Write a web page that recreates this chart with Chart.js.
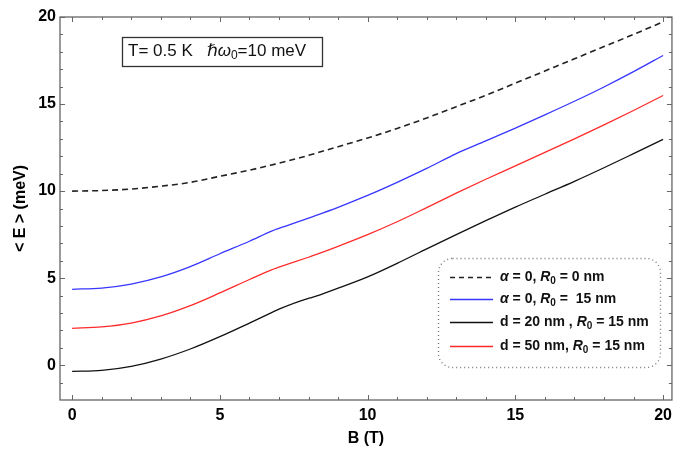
<!DOCTYPE html>
<html>
<head>
<meta charset="utf-8">
<script src="https://cdn.jsdelivr.net/npm/chart.js@4.4.0/dist/chart.umd.min.js"></script>
<style>
  body { margin: 0; background: #fff; }
  #wrap { width: 678px; height: 450px; }
</style>
</head>
<body>
<div id="wrap"><canvas id="chart" width="678" height="450"></canvas></div>
<script>
// magnetic field (T)
const B = [0, 1, 2, 3, 4, 5, 6, 6.75, 7, 8, 8.1, 9, 10, 11, 12, 13, 14, 15, 16, 17, 18, 19, 20]

// <E> (meV) for each curve
const eAlpha0R0 = [10.0, 10.03, 10.12, 10.28, 10.5, 10.85, 11.2, 11.5, 11.6, 12.05, 12.1, 12.55, 13.05, 13.6, 14.2, 14.85, 15.5, 16.2, 16.9, 17.6, 18.3, 19.0, 19.72]
const eAlpha0R15 = [4.36, 4.43, 4.66, 5.07, 5.66, 6.4, 7.12, 7.7, 7.86, 8.45, 8.51, 9.07, 9.75, 10.5, 11.3, 12.15, 12.88, 13.62, 14.38, 15.16, 15.98, 16.86, 17.79]
const eD20R15 = [-0.36, -0.3, -0.07, 0.35, 0.93, 1.64, 2.42, 3.02, 3.22, 3.84, 3.88, 4.42, 5.07, 5.85, 6.68, 7.5, 8.3, 9.08, 9.82, 10.56, 11.34, 12.15, 12.97]
const eD50R15 = [2.12, 2.2, 2.42, 2.83, 3.42, 4.15, 4.92, 5.48, 5.63, 6.2, 6.26, 6.83, 7.5, 8.24, 9.05, 9.88, 10.68, 11.45, 12.22, 13.0, 13.8, 14.63, 15.49]

const xTicks = [0, 5, 10, 15, 20]
const yTicks = [0, 5, 10, 15, 20]

const pts = (ys) => B.map((b, i) => ({x: b, y: ys[i]}))

const BLUE = '#3636ff'
const RED = '#ff2b2b'
const BLACK = '#111'

// draws text made of pieces: {t, it (italic), sub (subscript)}
function richText(ctx, parts, x, y, size, weight) {
    ctx.textBaseline = 'middle'
    ctx.textAlign = 'left'
    parts.forEach(p => {
        const s = p.sub ? Math.round(size * 0.7) : size
        ctx.font = `${p.it ? 'italic ' : ''}${weight} ${s}px "Liberation Sans", "DejaVu Sans", Arial, sans-serif`
        ctx.fillText(p.t, x, p.sub ? y + size * 0.3 : y)
        x += ctx.measureText(p.t).width
    })
}

const frame = {
    id: 'frame',
    afterDraw(chart) {
        const {ctx, chartArea: a, scales: {x, y}} = chart
        ctx.save()
        ctx.strokeStyle = '#666'
        ctx.lineWidth = 1.3
        ctx.strokeRect(a.left, a.top, a.right - a.left, a.bottom - a.top)
        ctx.lineWidth = 1
        ctx.beginPath()
        for (let v = 0; v <= 20; v++) {
            const px = Math.round(x.getPixelForValue(v)) + 0.5
            const len = v % 5 === 0 ? 5 : 3
            ctx.moveTo(px, a.bottom); ctx.lineTo(px, a.bottom - len)
            ctx.moveTo(px, a.top); ctx.lineTo(px, a.top + len)
        }
        for (let v = -1; v <= 20; v++) {
            const py = Math.round(y.getPixelForValue(v)) + 0.5
            const len = v % 5 === 0 ? 5 : 3
            ctx.moveTo(a.left, py); ctx.lineTo(a.left + len, py)
            ctx.moveTo(a.right, py); ctx.lineTo(a.right - len, py)
        }
        ctx.stroke()

        // parameter box
        ctx.fillStyle = '#111'
        ctx.strokeStyle = '#333'
        ctx.lineWidth = 1.3
        ctx.strokeRect(122.5, 37.5, 200, 29)
        richText(ctx, [
            {t: 'T= 0.5 K   '},
            {t: '\u210F\u03C9', it: true},
            {t: '0', sub: true},
            {t: '=10 meV'}
        ], 128, 51, 17, 'normal')

        // legend
        ctx.strokeStyle = '#777'
        ctx.lineWidth = 1.4
        ctx.setLineDash([1, 3])
        ctx.beginPath()
        ctx.roundRect(438.5, 258.5, 222, 109, 14)
        ctx.stroke()
        const rows = [
            {color: '#222', dash: [5, 4], parts: [{t: '\u03B1', it: true}, {t: ' = 0, '}, {t: 'R', it: true}, {t: '0', sub: true}, {t: ' = 0 nm'}]},
            {color: BLUE, dash: [], parts: [{t: '\u03B1', it: true}, {t: ' = 0, '}, {t: 'R', it: true}, {t: '0', sub: true}, {t: ' =  15 nm'}]},
            {color: BLACK, dash: [], parts: [{t: 'd = 20 nm , '}, {t: 'R', it: true}, {t: '0', sub: true}, {t: ' = 15 nm'}]},
            {color: RED, dash: [], parts: [{t: 'd = 50 nm, '}, {t: 'R', it: true}, {t: '0', sub: true}, {t: ' = 15 nm'}]}
        ]
        const rowY = [277, 299, 322, 346]
        rows.forEach((r, i) => {
            ctx.strokeStyle = r.color
            ctx.lineWidth = 1.3
            ctx.setLineDash(r.dash)
            ctx.beginPath()
            ctx.moveTo(450, rowY[i] + 0.5); ctx.lineTo(493, rowY[i] + 0.5)
            ctx.stroke()
            ctx.fillStyle = '#111'
            richText(ctx, r.parts, 500, rowY[i], 14, 'bold')
        })
        ctx.restore()
    }
}

const tickFont = {family: '"Liberation Sans", Arial, sans-serif', size: 16, weight: 'bold'}

new Chart(document.getElementById('chart'), {
    type: 'line',
    data: {
        datasets: [
            {label: 'a0R0', data: pts(eAlpha0R0), borderColor: '#222', borderWidth: 1.6, borderDash: [6, 4]},
            {label: 'a0R15', data: pts(eAlpha0R15), borderColor: BLUE, borderWidth: 1.3},
            {label: 'd20', data: pts(eD20R15), borderColor: BLACK, borderWidth: 1.3},
            {label: 'd50', data: pts(eD50R15), borderColor: RED, borderWidth: 1.3}
        ]
    },
    options: {
        responsive: false,
        animation: false,
        events: [],
        layout: {padding: {top: 17, right: 1, left: 0, bottom: 0}},
        elements: {
            point: {radius: 0},
            line: {cubicInterpolationMode: 'monotone', fill: false}
        },
        scales: {
            x: {
                type: 'linear',
                min: -0.41,
                max: 20.3,
                afterBuildTicks: (s) => { s.ticks = xTicks.map(v => ({value: v})) },
                afterFit: (s) => { s.height = 50 },
                grid: {display: false, drawTicks: false},
                border: {display: false},
                ticks: {font: tickFont, color: '#000', padding: 6, maxRotation: 0},
                title: {display: true, text: 'B (T)', font: tickFont, color: '#000', padding: {top: 0, bottom: 2}}
            },
            y: {
                min: -2,
                max: 20,
                afterBuildTicks: (s) => { s.ticks = yTicks.map(v => ({value: v})) },
                afterFit: (s) => { s.width = 60 },
                grid: {display: false, drawTicks: false},
                border: {display: false},
                ticks: {font: tickFont, color: '#000', padding: 4},
                title: {display: true, text: '< E > (meV)', font: tickFont, color: '#000', padding: {top: 11, bottom: 0}}
            }
        },
        plugins: {
            legend: {display: false},
            tooltip: {enabled: false}
        }
    },
    plugins: [frame]
})
</script>
</body>
</html>
